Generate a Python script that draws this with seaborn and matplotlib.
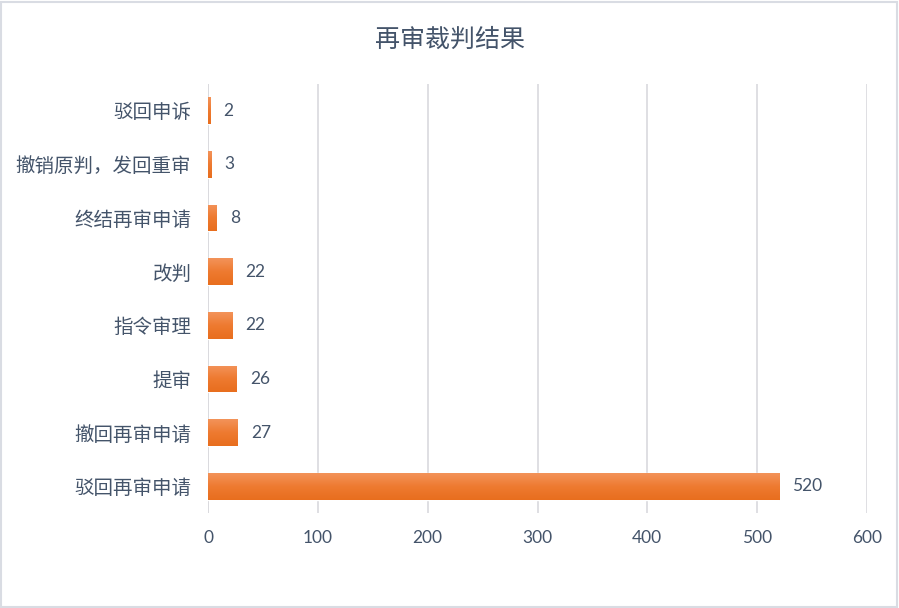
import matplotlib
matplotlib.use("Agg")
import matplotlib.pyplot as plt
from matplotlib.colors import LinearSegmentedColormap
import seaborn as sns
import numpy as np
import pandas as pd

# data, top to bottom as in the chart
categories = ["驳回申诉", "撤销原判，发回重审", "终结再审申请", "改判",
              "指令审理", "提审", "撤回再审申请", "驳回再审申请"]
counts = [2, 3, 8, 22, 22, 26, 27, 520]
x_ticks = [0, 100, 200, 300, 400, 500, 600]
title = "再审裁判结果"

sns.set_theme(style="white")
plt.rcParams["font.family"] = ["Lato", "Noto Sans CJK SC", "DejaVu Sans"]

text_col = "#44546A"
bar_col = "#EF7B2F"
grad = LinearSegmentedColormap.from_list("bar", ["#F3935A", "#EE7A30", "#E86E1E"])

df = pd.DataFrame({"category": categories, "count": counts})

fig = plt.figure(figsize=(8.99, 6.08), dpi=100)
ax = fig.add_axes([0.2314, 0.156, 0.733, 0.706])

sns.barplot(data=df, x="count", y="category", orient="h", color=bar_col,
            width=0.5, saturation=1, ax=ax)

# excel-like vertical gradient on each bar, plus the value label
g = np.linspace(0, 1, 64).reshape(-1, 1)
for p, v in zip(ax.patches, counts):
    x0, y0, w, h = p.get_x(), p.get_y(), p.get_width(), p.get_height()
    im = ax.imshow(g, cmap=grad, aspect="auto", extent=[x0, x0 + w, y0 + h, y0],
                   origin="upper", zorder=p.get_zorder() + 0.1)
    im.set_clip_path(p)
    ax.text(x0 + w + 12, y0 + h / 2, str(v),
            va="center", ha="left", fontsize=12.5, color=text_col)

ax.set_xlim(0, 600)
ax.set_ylim(len(categories) - 0.5, -0.5)
ax.set_xticks(x_ticks)
ax.set_xticklabels([str(t) for t in x_ticks])
ax.xaxis.grid(True, color="#D9D9DE", linewidth=1.2)
ax.set_axisbelow(True)
for s in ax.spines.values():
    s.set_visible(False)
ax.axvline(0, color="#D9D9DE", linewidth=1.2, zorder=0)
ax.tick_params(axis="x", labelsize=12.5, colors=text_col, length=0, pad=12)
ax.tick_params(axis="y", labelsize=14, colors=text_col, length=0, pad=12)
ax.set_xlabel("")
ax.set_ylabel("")

fig.text(0.5, 0.935, title, ha="center", va="center", fontsize=18,
         color=text_col, fontweight="medium")

# light frame round the chart area
fig.patches.append(plt.Rectangle((0.001, 0.002), 0.997, 0.995, transform=fig.transFigure,
                                 fill=False, edgecolor="#D9DCE3", linewidth=1.5))

fig.savefig("out.png", dpi=100)
